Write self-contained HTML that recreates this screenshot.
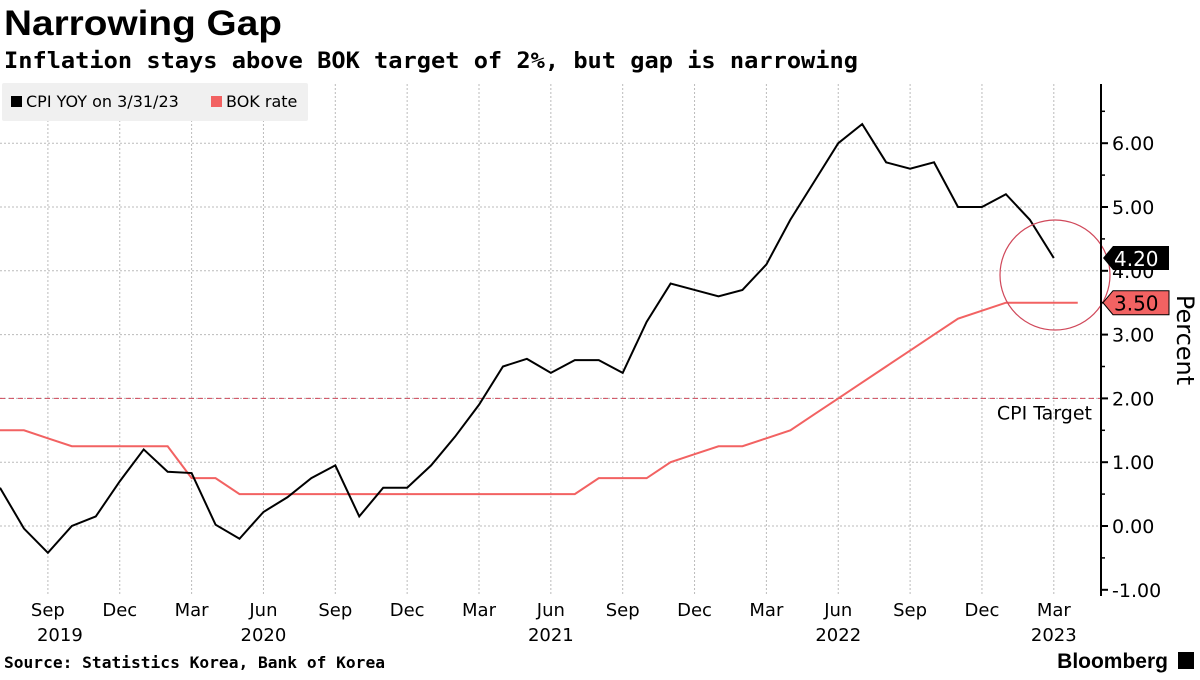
<!DOCTYPE html>
<html><head><meta charset="utf-8"><style>
body{margin:0;background:#fff;font-family:"Liberation Sans","DejaVu Sans",sans-serif}
</style></head><body>
<svg width="1200" height="675" viewBox="0 0 1200 675" xmlns="http://www.w3.org/2000/svg" font-family="DejaVu Sans, Liberation Sans, sans-serif">
<text x="4" y="35" font-size="35" font-weight="bold" font-family="Liberation Sans, sans-serif" textLength="278" lengthAdjust="spacingAndGlyphs">Narrowing Gap</text>
<text x="4" y="68" font-size="22" font-weight="bold" font-family="DejaVu Sans Mono, Liberation Mono, monospace" textLength="854" lengthAdjust="spacingAndGlyphs">Inflation stays above BOK target of 2%, but gap is narrowing</text>
<g id="grid"></g>
<g id="plot"></g>
<g id="axes"></g>
<g>
<rect x="2" y="83" width="306" height="38" fill="#f0f0f0" rx="2"/>
<rect x="11" y="96" width="11" height="11" fill="#000"/>
<text x="26" y="107" font-size="16">CPI YOY on 3/31/23</text>
<rect x="211" y="96" width="11" height="11" fill="#f26262"/>
<text x="226" y="107" font-size="16">BOK rate</text>
</g>
<text transform="translate(1177,340) rotate(90)" font-size="24" text-anchor="middle">Percent</text>
<text x="4" y="668" font-size="16" font-weight="bold" font-family="DejaVu Sans Mono, Liberation Mono, monospace" textLength="381" lengthAdjust="spacingAndGlyphs">Source: Statistics Korea, Bank of Korea</text>
<text x="1168" y="668" font-size="21" font-weight="bold" text-anchor="end" font-family="Liberation Sans, sans-serif">Bloomberg</text>
<rect x="1178" y="652" width="16" height="17" fill="#000"/>
</svg>
<script>
const yTicks=[-1,0,1,2,3,4,5,6];
const xTickLabels=["Sep","Dec","Mar","Jun","Sep","Dec","Mar","Jun","Sep","Dec","Mar","Jun","Sep","Dec","Mar"];
const xTickMonths=[2,5,8,11,14,17,20,23,26,29,32,35,38,41,44];
const yearLabels=["2019","2020","2021","2022","2023"];
const yearMonths=[2,11,23,35,44];
const cpi=[0.6,-0.04,-0.42,0.0,0.15,0.7,1.2,0.85,0.83,0.02,-0.2,0.22,0.45,0.75,0.95,0.15,0.6,0.6,0.95,1.4,1.9,2.5,2.62,2.4,2.6,2.6,2.4,3.2,3.8,3.7,3.6,3.7,4.1,4.8,5.4,6.0,6.3,5.7,5.6,5.7,5.0,5.0,5.2,4.8,4.2];
const bok=[1.5,1.5,1.375,1.25,1.25,1.25,1.25,1.25,0.75,0.75,0.5,0.5,0.5,0.5,0.5,0.5,0.5,0.5,0.5,0.5,0.5,0.5,0.5,0.5,0.5,0.75,0.75,0.75,1.0,1.125,1.25,1.25,1.375,1.5,1.75,2.0,2.25,2.5,2.75,3.0,3.25,3.375,3.5,3.5,3.5,3.5];
const target=2;
const NS="http://www.w3.org/2000/svg";
const X=m=>m*23.95;
const Y=v=>526-v*63.8;
function mk(tag,at,parent){const e=document.createElementNS(NS,tag);for(const k in at)e.setAttribute(k,at[k]);document.getElementById(parent).appendChild(e);return e;}
yTicks.forEach(v=>{
 if(v!==-1){const g=mk('line',{x1:0,x2:1100,y1:Y(v),y2:Y(v),stroke:'#bbb','stroke-dasharray':'2,2'},'grid');
 
 }
 const t=mk('line',{x1:1100,x2:1108,y1:Y(v),y2:Y(v),stroke:'#000','stroke-width':2},'axes');
 
 
 const m=mk('line',{x1:1100,x2:1105,y1:Y(v+0.5),y2:Y(v+0.5),stroke:'#000','stroke-width':1.5},'axes');
 
 
 const l=mk('text',{x:1112,y:Y(v)+7,'font-size':19},'axes');l.textContent=v.toFixed(2);
 
 
});
const ax=mk('line',{x1:1101,x2:1101,y1:84,y2:596,stroke:'#000','stroke-width':2},'axes');


xTickMonths.forEach((m,i)=>{
 const g=mk('line',{x1:X(m),x2:X(m),y1:84,y2:596,stroke:'#bbb','stroke-dasharray':'2,2'},'grid');
 
 
 const l=mk('text',{x:X(m),y:616,'font-size':18,'text-anchor':'middle'},'axes');l.textContent=xTickLabels[i];
 
 
});
yearMonths.forEach((m,i)=>{
 const l=mk('text',{x:X(m)+(i==0?12:0),y:641,'font-size':18,'text-anchor':'middle'},'axes');l.textContent=yearLabels[i];
 
 
});
const tl=mk('line',{x1:0,x2:1100,y1:Y(target),y2:Y(target),stroke:'#d0485a','stroke-dasharray':'5,4','stroke-width':1},'plot');


const tt=mk('text',{x:1092,y:Y(target)+21,'font-size':19,'text-anchor':'end'},'plot');tt.textContent='CPI Target';


const bp=mk('polyline',{points:bok.map((v,i)=>X(i)+','+Y(v)).join(' '),fill:'none',stroke:'#f26262','stroke-width':2},'plot');


const cp=mk('polyline',{points:cpi.map((v,i)=>X(i)+','+Y(v)).join(' '),fill:'none',stroke:'#000','stroke-width':2},'plot');


const c=mk('circle',{cx:1055,cy:275,r:55,fill:'none',stroke:'#d0485a','stroke-width':1.2},'plot');


function badge(v,bg,fg,name){
 const y=Y(v);
 const p=mk('polygon',{points:`1103,${y} 1113,${y-12} 1169,${y-12} 1169,${y+12} 1113,${y+12}`,fill:bg,stroke:'#000','stroke-width':bg=='#000'?0:1},'axes');
 
 
 const t=mk('text',{x:1114,y:y+8,'font-size':20,fill:fg},'axes');t.textContent=v.toFixed(2);
 
 
}
badge(cpi[cpi.length-1],'#000','#fff','cpi-last');
badge(bok[bok.length-1],'#f26262','#000','bok-last');
</script>
</body></html>
